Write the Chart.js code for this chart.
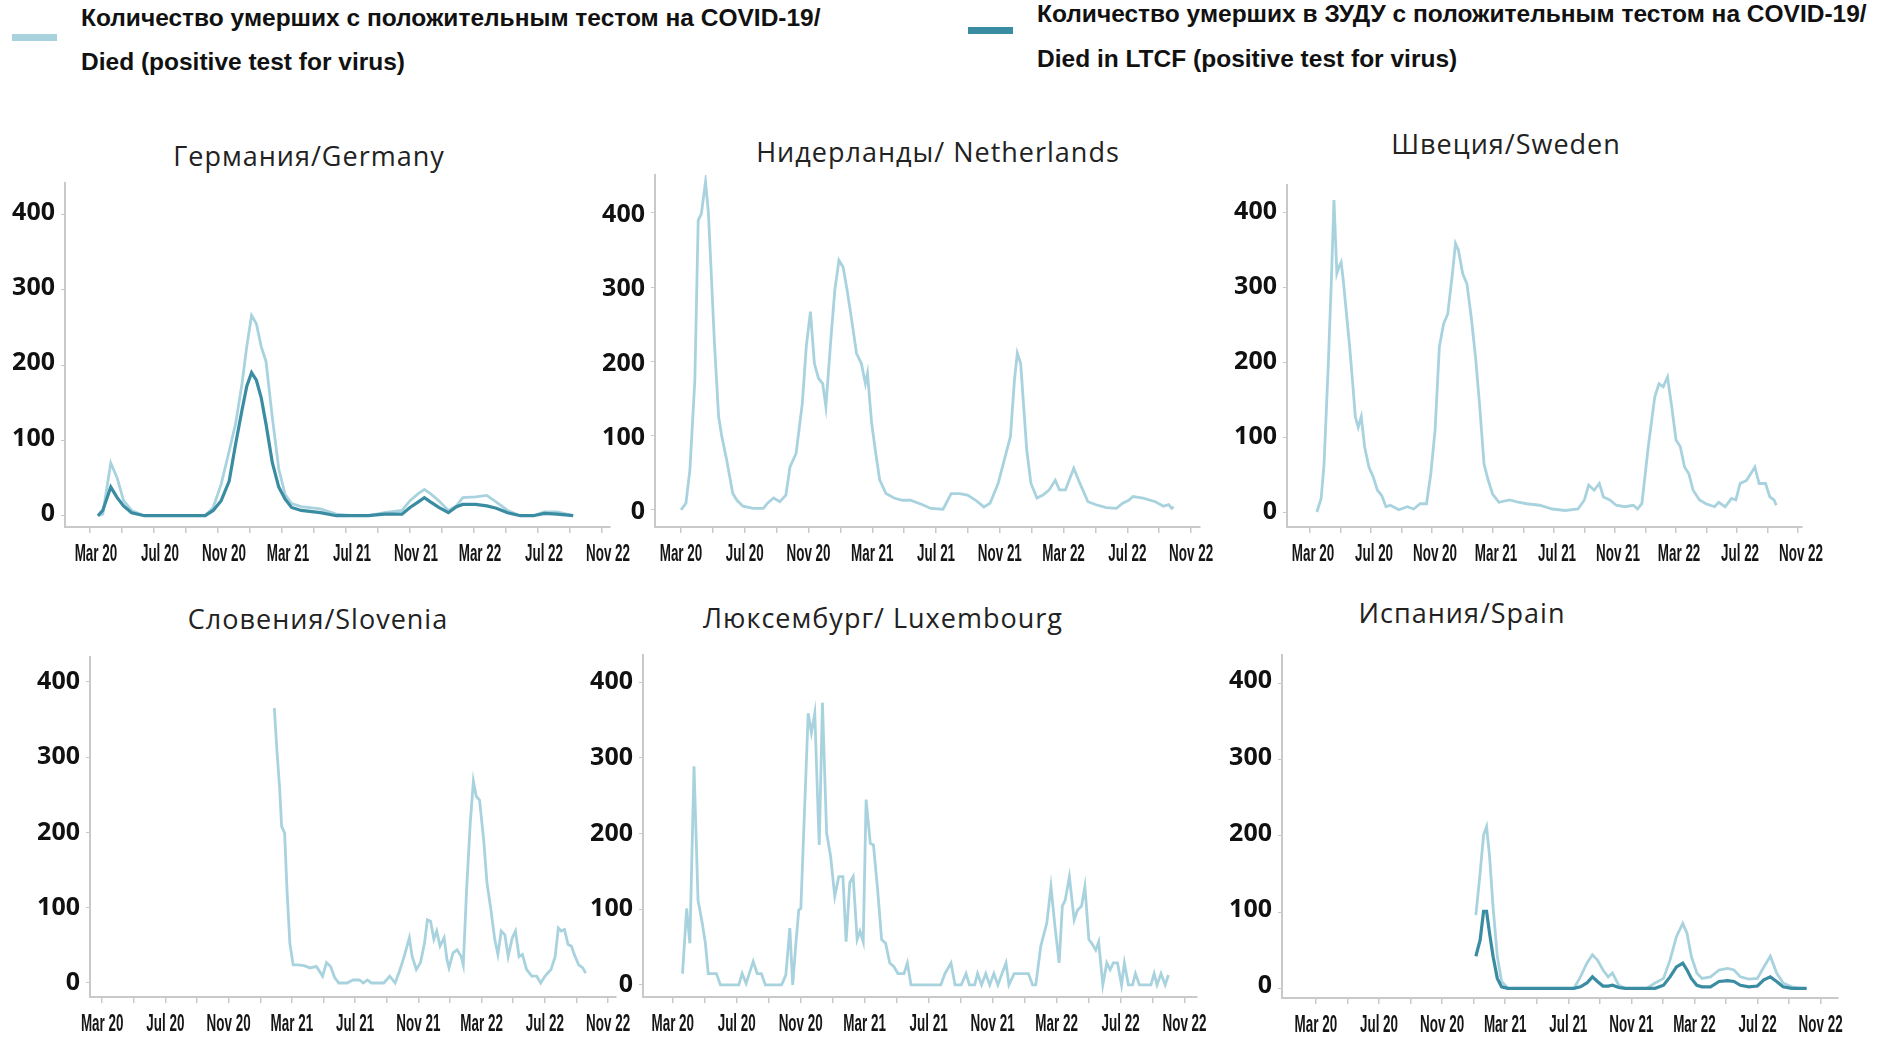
<!DOCTYPE html>
<html>
<head>
<meta charset="utf-8">
<script src="https://cdn.jsdelivr.net/npm/chart.js@4.4.1/dist/chart.umd.min.js"></script>
<style>
  body { margin: 0; width: 1888px; height: 1040px; position: relative; overflow: hidden; background: #fff; }
  canvas { position: absolute; }
  .swatch { position: absolute; width: 45px; height: 7px; }
  .legend-text { position: absolute; font-family: "Liberation Sans", Arial, sans-serif; font-weight: bold; font-size: 24.5px; color: #111; white-space: nowrap; }
  .panel-title { position: absolute; transform: translate(-50%, -50%); font-family: "Open Sans", sans-serif; font-size: 27px; letter-spacing: 1px; color: #222; white-space: nowrap; }
</style>
</head>
<body>
<script>
const LIGHT = "#a8d3de";
const DARK = "#3a8ca2";

// x values are months counted from Jan 2020 (Jan 2020 = 0)
const tickMonths = [2, 6, 10, 14, 18, 22, 26, 30, 34];
const tickLabels = ["Mar 20", "Jul 20", "Nov 20", "Mar 21", "Jul 21", "Nov 21", "Mar 22", "Jul 22", "Nov 22"];

const legendLabels = [
  ["Количество умерших с положительным тестом на COVID-19/", "Died (positive test for virus)"],
  ["Количество умерших в ЗУДУ с положительным тестом на COVID-19/", "Died in LTCF (positive test for virus)"]
];

// Germany
const gerMonths = [2.5, 2.8, 3.3, 3.7, 4.1, 4.6, 5.4, 7.0, 9.2, 9.7, 10.2, 10.7, 11.1, 11.5, 11.8, 12.1, 12.4, 12.7,
  13.0, 13.4, 13.8, 14.2, 14.6, 15.2, 16.4, 17.4, 18.4, 19.4, 20.4, 21.5, 22.0, 22.5, 22.9, 23.3, 23.8, 24.4, 24.9, 25.3,
  26.1, 26.8, 27.4, 28.1, 28.9, 29.7, 30.4, 31.2, 32.2];
const gerAll = [0, 2, 70, 50, 20, 7, 0, 0, 0, 11, 42, 86, 122, 175, 225, 266, 255, 225,
  205, 130, 62, 28, 16, 12, 9, 2, 0, 0, 4, 7, 20, 29, 35, 29, 20, 7, 13, 24,
  25, 27, 18, 7, 0, 0, 5, 5, 0];
const gerLtcf = [0, 7, 38, 24, 13, 4, 0, 0, 0, 7, 20, 46, 95, 140, 172, 190, 180, 157,
  122, 70, 38, 22, 11, 7, 4, 0, 0, 0, 2, 2, 11, 18, 24, 18, 11, 4, 12, 15,
  15, 13, 10, 4, 0, 0, 3, 2, 0];

// Netherlands
const nlMonths = [2.0, 2.31, 2.56, 2.87, 3.08, 3.28, 3.54, 3.72, 3.9, 4.1, 4.36, 4.56, 4.87, 5.25, 5.51, 5.89, 6.53, 7.17,
  7.43, 7.81, 8.2, 8.58, 8.84, 9.22, 9.61, 9.86, 10.12, 10.37, 10.63, 10.89, 11.09, 11.4, 11.65, 11.91, 12.17, 12.42,
  12.68, 13.01, 13.32, 13.57, 13.7, 13.96, 14.22, 14.47, 14.86, 15.37, 15.88, 16.39, 17.16, 17.67, 18.44, 18.95, 19.47,
  19.98, 20.49, 21.0, 21.39, 21.9, 22.28, 22.67, 22.92, 23.1, 23.31, 23.69, 23.95, 24.33, 24.71, 25.1, 25.48, 25.74,
  26.12, 26.64, 27.02, 27.53, 28.04, 28.68, 29.32, 29.71, 30.09, 30.35, 30.99, 31.76, 32.27, 32.6, 32.78, 32.91];
const nlAll = [0, 9, 54, 175, 390, 399, 442, 400, 318, 224, 126, 99, 67, 22, 13, 5, 2, 2,
  9, 16, 11, 20, 58, 76, 143, 220, 267, 197, 177, 170, 139, 229, 296, 336, 327, 296,
  260, 211, 197, 170, 184, 117, 76, 40, 22, 16, 13, 13, 7, 2, 1, 22, 22,
  20, 13, 4, 9, 36, 67, 99, 175, 211, 197, 81, 36, 16, 20, 27, 40, 27,
  27, 56, 36, 11, 7, 3, 2, 9, 13, 18, 16, 11, 5, 7, 2, 4];

// Sweden
const swMonths = [2.45, 2.73, 2.92, 3.2, 3.4, 3.57, 3.76, 3.9, 4.04, 4.18, 4.41, 4.6, 4.8, 4.97, 5.16, 5.36, 5.58, 5.86,
  6.14, 6.42, 6.7, 6.98, 7.26, 7.82, 8.38, 8.8, 9.22, 9.64, 9.92, 10.2, 10.48, 10.76, 11.03, 11.31, 11.54, 11.73,
  12.01, 12.29, 12.57, 12.85, 13.13, 13.41, 13.69, 13.97, 14.39, 15.09, 15.65, 16.21, 17.05, 17.89, 18.73, 19.57,
  19.99, 20.27, 20.63, 20.97, 21.24, 21.66, 22.08, 22.64, 23.2, 23.48, 23.76, 24.18, 24.6, 24.88, 25.16, 25.44,
  25.72, 26.0, 26.28, 26.56, 26.84, 27.12, 27.54, 27.96, 28.52, 28.8, 29.22, 29.64, 29.92, 30.2, 30.62, 30.9,
  31.17, 31.45, 31.87, 32.15, 32.43, 32.57];
const swAll = [0, 18, 64, 198, 309, 416, 318, 327, 333, 309, 260, 220, 171, 127, 113, 127, 87, 60,
  47, 29, 22, 7, 9, 3, 7, 4, 11, 11, 51, 109, 220, 251, 264, 313, 358, 349,
  318, 304, 260, 207, 140, 64, 42, 24, 13, 16, 13, 11, 9, 4, 2, 4,
  16, 36, 29, 38, 20, 16, 9, 7, 9, 4, 11, 87, 153, 171, 167, 180,
  140, 96, 87, 60, 51, 29, 16, 11, 7, 13, 7, 18, 16, 38, 42, 51,
  60, 38, 38, 20, 16, 9];

// Slovenia
const slMonths = [12.89, 13.05, 13.23, 13.35, 13.54, 13.69, 13.87, 14.08, 14.39, 14.77, 15.16, 15.55, 15.94, 16.19,
  16.45, 16.71, 16.97, 17.48, 17.87, 18.26, 18.52, 18.77, 19.03, 19.81, 20.19, 20.53, 20.84, 21.1, 21.43, 21.61,
  21.87, 22.13, 22.39, 22.57, 22.77, 22.98, 23.16, 23.37, 23.63, 23.81, 23.94, 24.19, 24.45, 24.71, 24.84, 25.05,
  25.28, 25.48, 25.66, 25.87, 26.13, 26.34, 26.59, 26.83, 27.03, 27.24, 27.47, 27.68, 27.94, 28.14, 28.37, 28.58,
  28.84, 29.17, 29.48, 29.74, 30.0, 30.39, 30.65, 30.85, 31.03, 31.24, 31.47, 31.68, 31.86, 32.14, 32.4, 32.58];
const slAll = [365, 310, 257, 208, 199, 124, 53, 24, 24, 23, 20, 22, 9, 27,
  22, 7, 0, 0, 4, 4, 0, 4, 0, 0, 9, 0, 18, 35, 60, 35,
  18, 27, 53, 84, 82, 58, 69, 49, 60, 31, 20, 40, 44, 35, 24, 124,
  212, 268, 248, 243, 190, 133, 97, 58, 38, 69, 64, 35, 60, 69, 35, 38,
  18, 9, 9, 0, 9, 18, 35, 73, 69, 71, 51, 49, 38, 24, 20, 13];

// Luxembourg
const luMonths = [2.61, 2.87, 3.07, 3.33, 3.58, 3.84, 4.04, 4.22, 4.47, 4.73, 4.98, 6.13, 6.34, 6.59, 7.03, 7.28, 7.54,
  7.79, 8.81, 9.07, 9.32, 9.5, 9.7, 9.88, 10.01, 10.21, 10.47, 10.67, 10.88, 11.11, 11.16, 11.36, 11.62, 11.87, 12.13,
  12.38, 12.64, 12.84, 13.07, 13.28, 13.53, 13.71, 13.91, 14.09, 14.35, 14.55, 14.81, 15.06, 15.31, 15.57, 15.83,
  16.08, 16.46, 16.67, 16.9, 18.76, 19.02, 19.4, 19.65, 20.04, 20.34, 20.55, 20.88, 21.06, 21.31, 21.57, 21.82,
  22.08, 22.33, 22.59, 22.84, 23.02, 23.35, 24.24, 24.5, 24.7, 25.01, 25.39, 25.65, 25.9, 26.16, 26.36, 26.54, 26.8,
  27.1, 27.31, 27.56, 27.77, 28.02, 28.2, 28.45, 28.63, 28.89, 29.14, 29.35, 29.55, 29.81, 30.06, 30.24, 30.49,
  30.75, 30.93, 31.18, 31.9, 32.1, 32.28, 32.53, 32.79, 32.99];
const luAll = [15, 101, 55, 289, 112, 82, 55, 15, 15, 15, 0, 0, 15, 2, 31, 15, 15,
  0, 0, 13, 75, 0, 55, 99, 101, 214, 359, 333, 359, 214, 185, 373, 201, 170, 117,
  143, 143, 57, 135, 143, 60, 71, 57, 245, 187, 185, 126, 60, 55, 29, 24,
  15, 15, 29, 0, 0, 15, 29, 0, 0, 15, 0, 0, 15, 0, 15, 0,
  15, 0, 15, 29, 0, 15, 15, 0, 0, 51, 82, 130, 77, 29, 104, 112, 143,
  86, 99, 104, 130, 60, 55, 46, 57, 0, 29, 20, 29, 29, 0, 29, 0,
  0, 15, 0, 0, 15, 0, 15, 0, 13];

// Spain
const spMonths = [12.14, 12.41, 12.63, 12.82, 13.01, 13.23, 13.5, 13.77, 14.17, 14.85, 16.2, 17.55, 18.36, 18.77,
  19.18, 19.53, 19.85, 20.2, 20.53, 20.8, 21.2, 21.61, 22.96, 23.5, 24.04, 24.45, 24.86, 25.26, 25.53, 25.8,
  26.15, 26.48, 27.02, 27.56, 28.1, 28.51, 28.91, 29.45, 29.99, 30.4, 30.81, 31.21, 31.62, 32.16, 32.7, 33.11];
const spAll = [96, 151, 201, 212, 173, 107, 42, 9, 0, 0, 0, 0, 0, 15,
  33, 44, 37, 24, 15, 20, 4, 0, 0, 7, 13, 37, 68, 85, 72, 42,
  20, 13, 15, 24, 26, 24, 15, 12, 13, 28, 42, 20, 7, 2, 0, 0];
const spLtcf = [42, 63, 101, 101, 72, 42, 13, 2, 0, 0, 0, 0, 0, 2,
  7, 15, 9, 3, 3, 4, 1, 0, 0, 0, 4, 15, 28, 33, 24, 13,
  4, 2, 2, 9, 10, 9, 4, 2, 3, 11, 15, 9, 2, 0, 0, 0];

// panel layout: plot area edges (L,R,T,B) in page pixels
const panels = [
  { title: "Германия/Germany", tx: 309, ty: 155, L: 65, R: 610, T: 183, B: 527, xMin: 0.44, xMax: 34.5, yMin: -15, yMax: 442, yOff: -2, dx: 6,
    series: [[gerMonths, gerLtcf, DARK], [gerMonths, gerAll, LIGHT]] },
  { title: "Нидерланды/ Netherlands", tx: 938, ty: 151, L: 655, R: 1200, T: 175, B: 527, xMin: 0.37, xMax: 34.56, yMin: -23, yMax: 451, yOff: 2, dx: 0,
    series: [[nlMonths, nlAll, LIGHT]] },
  { title: "Швеция/Sweden", tx: 1506, ty: 143, L: 1287, R: 1802, T: 185, B: 527, xMin: 0.49, xMax: 34.26, yMin: -20, yMax: 436, yOff: 0, dx: 3,
    series: [[swMonths, swAll, LIGHT]] },
  { title: "Словения/Slovenia", tx: 318, ty: 618, L: 90, R: 616, T: 657, B: 997, xMin: 1.23, xMax: 34.5, yMin: -18.6, yMax: 433, yOff: 0, dx: 0,
    series: [[slMonths, slAll, LIGHT]] },
  { title: "Люксембург/ Luxembourg", tx: 883, ty: 617, L: 643, R: 1197, T: 655, B: 997, xMin: 0.14, xMax: 34.78, yMin: -16, yMax: 436, yOff: 0, dx: 0,
    series: [[luMonths, luAll, LIGHT]] },
  { title: "Испания/Spain", tx: 1462, ty: 612, L: 1282, R: 1838, T: 655, B: 998, xMin: -0.15, xMax: 35.1, yMin: -12.7, yMax: 437, yOff: -2, dx: 0,
    series: [[spMonths, spLtcf, DARK], [spMonths, spAll, LIGHT]] }
];

// legend
function addLegend(x, y, lineGap, color, lines, swatchY) {
  const sw = document.createElement("div");
  sw.className = "swatch";
  sw.style.left = x + "px";
  sw.style.top = swatchY + "px";
  sw.style.background = color;
  document.body.appendChild(sw);
  lines.forEach((t, i) => {
    const d = document.createElement("div");
    d.className = "legend-text";
    d.textContent = t;
    d.style.left = (x + 69) + "px";
    d.style.top = (y + i * lineGap - 15) + "px";
    document.body.appendChild(d);
  });
}
addLegend(12, 19, 44, LIGHT, legendLabels[0], 34);
addLegend(968, 15, 45, DARK, legendLabels[1], 27);

// month labels under the x axis are narrow and tall in the original, so squeeze them horizontally
const squeezedLabels = {
  id: "squeezedLabels",
  afterDraw(chart, args, opts) {
    const s = chart.scales.x;
    const ctx = chart.ctx;
    ctx.save();
    ctx.font = "bold 24px 'Liberation Sans', Arial, sans-serif";
    ctx.fillStyle = "#151515";
    ctx.textAlign = "center";
    ctx.textBaseline = "middle";
    tickMonths.forEach((m, i) => {
      ctx.save();
      ctx.translate(s.getPixelForValue(m) + opts.dx, s.top + 27);
      ctx.scale(0.56, 1);
      ctx.fillText(tickLabels[i], 0, 0);
      ctx.restore();
    });
    ctx.restore();
  }
};

const AXIS = "#c9c9c9";
const YW = 72, PR = 40, PT = 12, XH = 50;

panels.forEach((p) => {
  const t = document.createElement("div");
  t.className = "panel-title";
  t.textContent = p.title;
  t.style.left = p.tx + "px";
  t.style.top = p.ty + "px";
  document.body.appendChild(t);

  const c = document.createElement("canvas");
  const w = (p.R - p.L) + YW + PR;
  const h = (p.B - p.T) + PT + XH;
  c.width = w;
  c.height = h;
  c.style.left = (p.L - YW) + "px";
  c.style.top = (p.T - PT) + "px";
  document.body.appendChild(c);

  new Chart(c, {
    type: "line",
    data: {
      datasets: p.series.map(([months, vals, color]) => ({
        data: months.map((m, i) => ({ x: m, y: vals[i] })),
        borderColor: color,
        borderWidth: color === DARK ? 3.2 : 2.8,
        pointRadius: 0,
        tension: 0,
        fill: false
      }))
    },
    plugins: [squeezedLabels],
    options: {
      responsive: false,
      animation: false,
      devicePixelRatio: 1,
      layout: { padding: { top: PT, right: PR, left: 0, bottom: 0 } },
      plugins: { legend: { display: false }, tooltip: { enabled: false }, squeezedLabels: { dx: p.dx } },
      scales: {
        x: {
          type: "linear",
          min: p.xMin,
          max: p.xMax,
          afterBuildTicks: (s) => { s.ticks = s.ticks.filter((t) => t.value >= 1); },
          afterFit: (s) => { s.height = XH; s.paddingLeft = 0; s.paddingRight = 0; },
          border: { color: AXIS, width: 2 },
          grid: { drawOnChartArea: false, drawTicks: true, tickLength: 6, color: AXIS, lineWidth: 1.5 },
          ticks: { stepSize: 2, includeBounds: false, autoSkip: false, display: false }
        },
        y: {
          min: p.yMin,
          max: p.yMax,
          afterFit: (s) => { s.width = YW; s.paddingTop = 0; s.paddingBottom = 0; },
          border: { color: AXIS, width: 2 },
          grid: { drawOnChartArea: false, drawTicks: true, tickLength: 4, color: AXIS },
          ticks: {
            stepSize: 100,
            includeBounds: false,
            padding: 6,
            labelOffset: p.yOff,
            color: "#111",
            font: { family: "'Open Sans', sans-serif", weight: "bold", size: 25 }
          }
        }
      }
    }
  });
});
</script>
</body>
</html>
